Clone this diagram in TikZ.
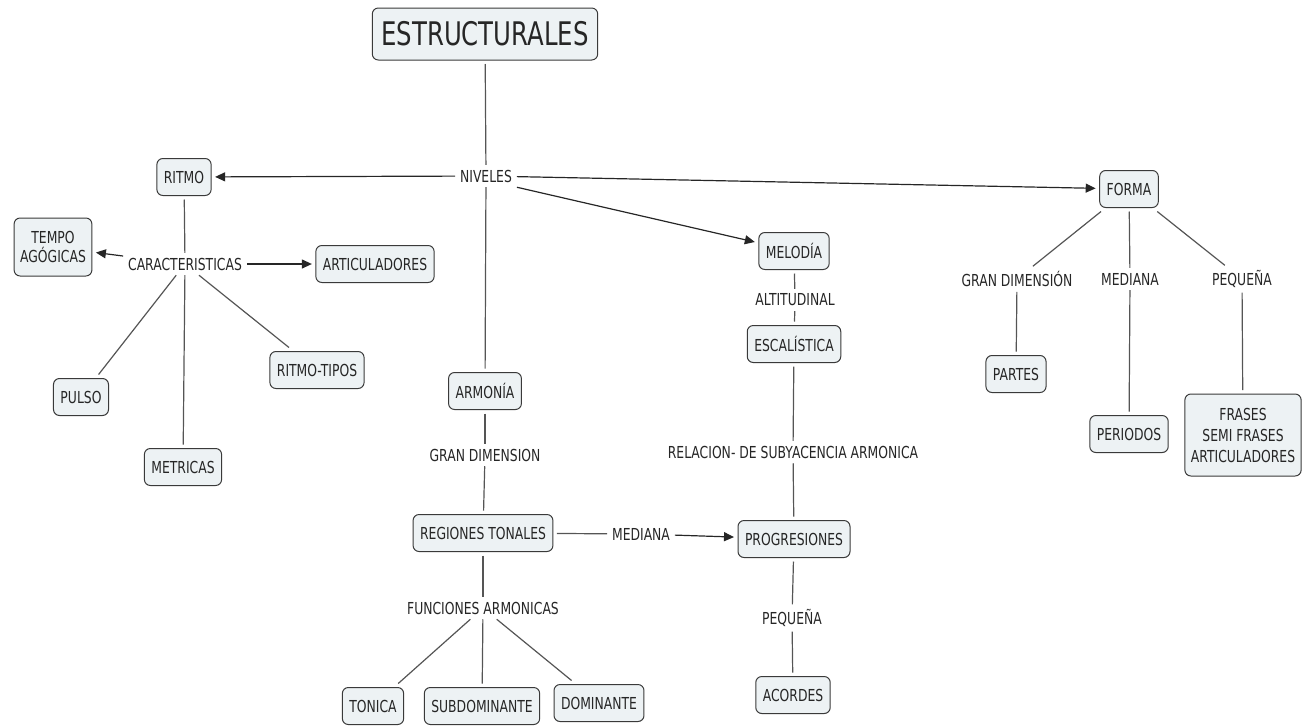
\documentclass[tikz,border=0pt]{standalone}
\usepackage{fontspec}
\setmainfont{DejaVu Sans}[FakeStretch=0.75]
\usetikzlibrary{arrows.meta}
\definecolor{boxfill}{HTML}{EDF2F4}
\definecolor{boxline}{HTML}{3A3A3A}
\definecolor{lnk}{HTML}{555555}
\tikzset{
  cbox/.style={draw=boxline, fill=boxfill, rounded corners=6pt, line width=1pt,
    inner xsep=7pt, inner ysep=4pt, minimum height=37pt, align=center,
    font=\fontsize{16.5}{19}\selectfont, text=black!85, outer sep=4pt},
  lbl/.style={inner sep=2pt, font=\fontsize{16.5}{19}\selectfont, text=black!85, outer sep=3pt},
  lnkline/.style={draw=lnk, line width=1.2pt},
  arr/.style={draw=black!85, line width=1.2pt, -{Triangle[length=10pt,width=9pt]}},
}
\begin{document}
\begin{tikzpicture}[x=1pt,y=-1pt]
\useasboundingbox (0,0) rectangle (1308,726);
% nodes
\node[cbox, font=\fontsize{32.5}{36}\selectfont, minimum height=52pt, inner xsep=9pt] (est) at (485,34) {ESTRUCTURALES};
\node[lbl] (niv) at (486,176) {NIVELES};
\node[cbox] (ritmo) at (184,177) {RITMO};
\node[cbox] (forma) at (1129,189) {FORMA};
\node[cbox] (melo) at (794,251) {MELODÍA};
\node[lbl] (car) at (185,264) {CARACTERISTICAS};
\node[cbox, minimum height=58pt, inner xsep=6pt, font=\fontsize{16.5}{19}\selectfont] (tempo) at (53,247) {TEMPO\\AGÓGICAS};
\node[cbox] (artic) at (375,264) {ARTICULADORES};
\node[cbox] (pulso) at (81,397) {PULSO};
\node[cbox] (metr) at (183,467) {METRICAS};
\node[cbox] (rtipos) at (317,370) {RITMO-TIPOS};
\node[cbox] (armo) at (485,391) {ARMONÍA};
\node[lbl] (gdim) at (485,455) {GRAN DIMENSION};
\node[cbox] (reg) at (483,533) {REGIONES TONALES};
\node[lbl] (med) at (641,534) {MEDIANA};
\node[cbox] (prog) at (794,539) {PROGRESIONES};
\node[lbl] (func) at (483,608) {FUNCIONES ARMONICAS};
\node[cbox] (toni) at (373,706) {TONICA};
\node[cbox] (subd) at (482,706) {SUBDOMINANTE};
\node[cbox] (domi) at (599,703) {DOMINANTE};
\node[lbl] (peq) at (792,618) {PEQUEÑA};
\node[cbox] (acor) at (793,695) {ACORDES};
\node[lbl] (alti) at (795,300) {ALTITUDINAL};
\node[cbox] (esca) at (794,344) {ESCALÍSTICA};
\node[lbl] (rel) at (793,452) {RELACION- DE SUBYACENCIA ARMONICA};
\node[lbl] (fgd) at (1017,279) {GRAN DIMENSIÓN};
\node[lbl] (fmed) at (1130,279) {MEDIANA};
\node[lbl] (fpeq) at (1242,279) {PEQUEÑA};
\node[cbox] (partes) at (1016,374) {PARTES};
\node[cbox] (peri) at (1129,434) {PERIODOS};
\node[cbox, inner xsep=6pt, minimum height=82pt, font=\fontsize{16.5}{21}\selectfont] (frases) at (1243,435) {FRASES\\SEMI FRASES\\ARTICULADORES};
% connectors
\draw[lnkline] (est) -- (niv);
\draw[arr] (niv) -- (ritmo);
\draw[arr] (niv) -- (forma);
\draw[arr] (niv.south east) -- (melo);
\draw[lnkline] (niv) -- (armo);
\draw[lnkline] (ritmo) -- (car);
\draw[arr] (car) -- (tempo);
\draw[arr] (car) -- (artic);
\draw[lnkline] (car) -- (pulso);
\draw[lnkline] (car) -- (metr);
\draw[lnkline] (car) -- (rtipos);
\draw[lnkline] (armo) -- (gdim);
\draw[lnkline] (gdim) -- (reg);
\draw[lnkline] (reg) -- (med);
\draw[arr] (med) -- (prog);
\draw[lnkline] (reg) -- (func);
\draw[lnkline] (func) -- (toni);
\draw[lnkline] (func) -- (subd);
\draw[lnkline] (func) -- (domi);
\draw[lnkline] (melo) -- (alti);
\draw[lnkline] (alti) -- (esca);
\draw[lnkline] (esca) -- (rel);
\draw[lnkline] (rel) -- (prog);
\draw[lnkline] (prog) -- (peq);
\draw[lnkline] (peq) -- (acor);
\draw[lnkline] (forma) -- (fgd);
\draw[lnkline] (forma) -- (fmed);
\draw[lnkline] (forma) -- (fpeq);
\draw[lnkline] (fgd) -- (partes);
\draw[lnkline] (fmed) -- (peri);
\draw[lnkline] (fpeq) -- (frases);
\end{tikzpicture}
\end{document}
